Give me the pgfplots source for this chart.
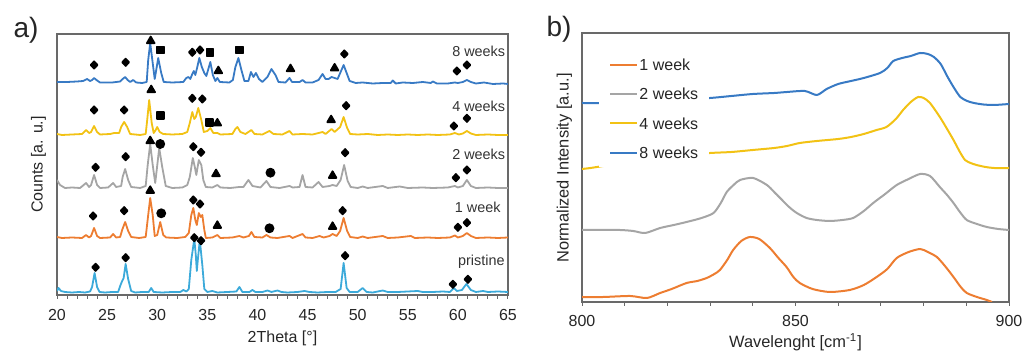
\documentclass[border=0pt]{standalone}
\usepackage{fontspec}
\setmainfont{Liberation Sans}
\usepackage{pgfplots}
\pgfplotsset{compat=1.18}
\definecolor{cpri}{RGB}{60,170,218}
\definecolor{cone}{RGB}{237,125,49}
\definecolor{ctwo}{RGB}{165,165,165}
\definecolor{cfour}{RGB}{242,194,20}
\definecolor{ceight}{RGB}{56,122,196}
\definecolor{axgray}{RGB}{105,105,105}
\newcommand{\tfont}{\fontsize{8}{9}\selectfont}
\begin{document}
\begin{tikzpicture}
\path[use as bounding box] (0,0) rectangle (512pt,176pt);
\node[font=\fontsize{14}{16}\selectfont, text=black!85] at (13pt,161pt) {a)};
\node[font=\fontsize{14}{16}\selectfont, text=black!85] at (279.5pt,161.5pt) {b)};
\begin{axis}[
  at={(28.5pt,28.5pt)}, anchor=south west, scale only axis,
  width=225.5pt, height=130.5pt,
  xmin=20, xmax=65, ymin=0, ymax=261,
  xtick={20,25,...,65}, minor x tick num=4, ytick=\empty,
  xtick pos=bottom, tick align=outside,
  major tick length=2pt, minor tick length=2pt,
  axis line style={color=axgray, line width=0.7pt},
  every tick/.style={color=axgray, line width=0.5pt},
  tick label style={font=\tfont, text=black!85},
  /pgf/number format/assume math mode=true,
  xticklabel style={anchor=center, yshift=-8pt},
  xlabel={2Theta [°]}, ylabel={Counts [a. u.]},
  label style={font=\tfont, text=black!85},
  xlabel style={at={(axis description cs:0.5,0)}, anchor=center, yshift=-21.5pt},
  ylabel style={at={(axis description cs:-0.009,0.5)}, anchor=south},
  every axis plot/.append style={line width=0.9pt, line join=round},
]
% pristine
\addplot[cpri] coordinates {(20.0,4)(20.15,7)(20.4,4)(20.8,3)(21.5,2.5)(22.2,3)(22.8,2.5)(23.3,3.5)(23.5,8)(23.75,22)(24.0,8)(24.25,3)(24.8,2.5)(25.5,3)(26.1,3)(26.3,9)(26.5,14)(26.65,17)(26.85,31)(27.1,16)(27.4,4)(27.8,2.5)(28.5,3)(29.15,3)(29.4,7)(29.65,3)(30.5,2.5)(31.5,3)(32.3,3)(32.6,5)(32.9,3.5)(33.15,6)(33.4,35)(33.7,56)(33.85,40)(33.95,24)(34.05,35)(34.25,55)(34.5,30)(34.7,6)(35,3)(35.5,4)(36,2.5)(37,3)(37.9,3.5)(38.2,8)(38.5,3)(39.2,3)(39.5,5)(39.8,3)(40.5,3)(41,4.5)(41.4,3)(42,4.5)(42.4,3)(43,2.5)(44,3)(44.7,4)(45.2,3)(46,2.5)(47,3)(47.8,3)(48.3,6)(48.6,32)(48.9,7)(49.2,3)(50,3)(50.5,7)(50.9,3)(51.5,2.5)(52.5,4.5)(53,3)(54,3)(55,3.5)(56,4)(56.5,3)(57.5,3)(58.5,3.5)(59.2,3)(59.6,7)(59.9,4)(60.4,5)(60.85,11)(61.3,5)(61.8,3)(62.5,4)(63,3)(64,3.5)(65,3)};
% 1 week
\addplot[cone] coordinates {(20.0,58)(20.5,57)(21.5,57.5)(22.5,57)(22.9,60)(23.2,57.5)(23.4,59)(23.7,67)(24.0,59)(24.3,57)(25.3,57.5)(25.6,61)(25.9,57.5)(26.3,58)(26.5,65)(26.8,73)(27.1,64)(27.4,58)(28.2,57)(28.85,58)(29.1,80)(29.3,97)(29.55,80)(29.75,59)(30.0,60)(30.3,73)(30.6,60)(30.9,57.5)(32,57)(32.8,58)(33.15,62)(33.4,80)(33.6,87)(33.8,75)(33.95,70)(34.15,82)(34.35,78)(34.5,80)(34.7,65)(34.85,57)(35.5,57.5)(36.0,60)(36.3,57)(37.5,57.5)(38.2,59)(38.6,57.5)(39.15,59)(39.4,63)(39.7,58)(40.5,57.5)(40.9,60)(41.3,57.5)(42,57)(43.2,59)(43.5,57)(44.5,61)(44.8,57.5)(45.5,57)(46.2,59)(46.6,57.5)(47.2,59)(47.5,61)(47.9,59)(48.25,64)(48.6,77)(48.95,64)(49.25,58)(50,57)(50.5,58.5)(51,57)(52.5,59)(53,57)(54,57.5)(55.3,59)(55.7,57)(57,57.5)(58,57)(59.2,57.5)(59.7,59.5)(60,57.5)(60.5,59)(60.9,62)(61.3,59)(61.8,57)(63,57.5)(64,57)(65,57.5)};
% 2 weeks
\addplot[ctwo] coordinates {(20.0,115)(20.3,110)(20.8,107)(21.5,107.5)(22.3,107)(22.9,112)(23.2,108)(23.4,110)(23.7,120)(24.0,110)(24.3,107)(25.1,107.5)(25.6,112)(25.9,108)(26.4,109)(26.55,118)(26.8,126)(27.1,115)(27.4,108)(28.3,107)(28.85,109)(29.05,130)(29.3,151)(29.55,130)(29.8,112)(29.95,125)(30.2,147)(30.5,128)(30.85,109)(31.5,107)(32.5,107.5)(33.0,110)(33.25,118)(33.55,137)(33.75,128)(33.9,120)(34.15,135)(34.4,130)(34.6,115)(34.85,108)(35.5,107.5)(36.0,110)(36.3,107.5)(37.3,107)(38.2,108)(38.6,108)(39.1,115)(39.5,109)(40.3,107.5)(40.9,114)(41.3,108)(42.2,107)(43.2,109)(43.5,107.5)(44.2,108)(44.5,120)(44.8,108)(45.5,107.5)(46.1,113)(46.5,108)(47.2,109)(47.5,110)(47.9,109)(48.3,115)(48.65,130)(49.0,114)(49.3,108)(50,107)(50.5,108.5)(51,107)(52.5,109)(53,107)(54.2,108.5)(55,107)(56.5,107.5)(57.5,107)(59,107.5)(59.7,109)(60,107.5)(60.5,109)(60.9,115)(61.3,109)(61.8,107)(63,107.5)(64,107)(65,107)};
% 4 weeks
\addplot[cfour] coordinates {(20.0,161)(20.5,160)(21.5,160.5)(22.5,161)(22.9,165)(23.2,162)(23.4,163)(23.7,169)(24.0,163)(24.3,160.5)(25.3,161)(25.7,162)(26.2,162)(26.4,168)(26.7,173)(27.0,168)(27.3,161)(28.3,160)(28.85,161)(29.0,175)(29.2,195)(29.45,172)(29.65,162)(29.85,165)(30.0,168)(30.25,163)(30.6,161)(31.5,160.5)(32.5,161)(33.0,163)(33.25,172)(33.5,183)(33.7,176)(33.85,178)(34.1,187)(34.4,175)(34.65,163)(35.0,164)(35.3,167)(35.6,162)(36.0,162)(36.3,160.5)(37.5,161)(37.8,166)(38.0,168)(38.3,163)(38.8,161)(39.4,165)(39.7,161)(40.5,160.5)(41.2,164)(41.6,161)(42.5,160.5)(43.2,164)(43.5,160.5)(44.5,161)(45.5,160.5)(46.5,163)(46.8,161)(47.4,166)(47.7,163)(48.25,168)(48.6,178)(48.95,167)(49.25,161)(50,160.5)(51,161)(52,160)(53,160.5)(54,160)(55,160.5)(56,160)(57,160.5)(58,160)(59.2,160.5)(59.7,162)(60.1,160.5)(60.5,161.5)(60.9,164)(61.3,161.5)(61.8,160)(63,160.5)(64,160)(65,160)};
% 8 weeks
\addplot[ceight] coordinates {(20.0,213)(21,213)(22,213.5)(22.6,214)(23.0,216)(23.3,214)(23.5,215)(23.7,217)(24.0,214.5)(24.3,212.5)(25.5,212.5)(26.3,213.5)(26.55,216)(26.8,218)(27.05,215)(27.3,213)(27.6,215)(27.9,212.5)(28.5,212)(28.95,213)(29.1,235)(29.3,252)(29.55,232)(29.75,216)(29.9,225)(30.1,237)(30.4,222)(30.65,213)(31.5,212.5)(32.6,213)(32.9,217)(33.1,218)(33.3,216)(33.5,221)(33.65,224)(33.8,220)(34.0,228)(34.2,237)(34.45,228)(34.7,222)(34.9,219)(35.1,226)(35.3,233)(35.55,220)(35.8,214)(36.0,217)(36.25,213)(37.2,212.5)(37.55,215)(37.8,228)(38.1,237)(38.4,225)(38.7,214)(39.1,214)(39.35,223)(39.6,218)(39.85,222)(40.15,216)(40.5,213)(41.0,218)(41.4,226)(41.8,220)(42.1,213)(42.8,212.5)(43.2,217)(43.45,213)(44.2,213)(44.5,215)(44.8,212.5)(45.5,212.5)(46.1,215)(46.5,221)(46.8,216)(47.1,216)(47.4,218)(47.7,217)(48.0,216)(48.3,223)(48.6,230)(48.9,222)(49.2,214)(49.8,212)(50.5,212.5)(51.5,211.5)(52.5,212)(53.3,212)(53.5,214.5)(53.8,211.5)(54.5,212.5)(55.5,212)(56.5,213)(57.3,212)(57.5,213.5)(57.9,211.5)(59,211.5)(59.7,212.5)(60.0,212)(60.5,213)(60.9,215)(61.3,213)(61.8,211.5)(62.6,212.5)(63.5,211)(64.5,211.5)(65,211)};
% symbols
\addplot[only marks, mark=diamond*, mark size=1.8pt, black, mark options={xscale=1.25}] coordinates {
(23.7,230)(26.85,232.7)(33.5,242.7)(34.27,245)(48.67,241)(59.9,224)(60.9,230)
(23.7,185)(26.7,185)(33.5,196.7)(34.5,196)(48.85,189.3)(59.6,169)(60.9,176.7)
(23.85,127.7)(26.85,138.3)(33.6,148.3)(34.37,142.7)(48.75,142.3)(59.8,117.3)(60.9,125)
(23.6,79)(26.7,84.3)(33.6,95)(34.27,91)(48.5,84.3)(60,67.7)(60.9,72.3)
(23.85,27.7)(26.85,37.3)(33.7,57.3)(34.37,54.3)(48.75,39.3)(59.5,10.7)(61,15.7)};
\addplot[only marks, mark=triangle*, mark size=2.2pt, black] coordinates {
(29.35,254)(36.1,224)(43.3,226)(47.7,226.7)
(29.4,205)(36,171.7)(47.35,175)
(29.3,154)(35.87,121)(47.5,119.3)
(29.3,104.3)(36,69.3)(47.5,68.3)};
\addplot[only marks, mark=square*, mark size=1.75pt, black] coordinates {
(30.35,245)(35.27,242.7)(38.2,245)
(30.35,179.3)(35.2,172.3)};
\addplot[only marks, mark=*, mark size=2pt, black] coordinates {
(30.3,151)(41.3,122.3)
(30.4,81.7)(41.2,66.7)};
\node[anchor=east, inner sep=0pt, font=\fontsize{7.2}{8}\selectfont, text=black!80] at (axis cs:64.75,244) {8 weeks};
\node[anchor=east, inner sep=0pt, font=\fontsize{7.2}{8}\selectfont, text=black!80] at (axis cs:64.75,189) {4 weeks};
\node[anchor=east, inner sep=0pt, font=\fontsize{7.2}{8}\selectfont, text=black!80] at (axis cs:64.75,141) {2 weeks};
\node[anchor=east, inner sep=0pt, font=\fontsize{7.2}{8}\selectfont, text=black!80] at (axis cs:64.3,88) {1 week};
\node[anchor=east, inner sep=0pt, font=\fontsize{7.2}{8}\selectfont, text=black!80] at (axis cs:64.7,33) {pristine};
\end{axis}

\begin{axis}[
  at={(291pt,25pt)}, anchor=south west, scale only axis,
  width=213.5pt, height=134.5pt,
  xmin=800, xmax=900, ymin=0, ymax=269,
  xtick={800,850,900}, minor x tick num=4, ytick=\empty,
  xtick pos=bottom, tick align=outside,
  major tick length=2pt, minor tick length=2pt,
  axis line style={color=axgray, line width=0.7pt},
  every tick/.style={color=axgray, line width=0.5pt},
  tick label style={font=\tfont, text=black!85},
  /pgf/number format/assume math mode=true,
  xticklabel style={anchor=center, yshift=-7.5pt},
  xlabel={Wavelenght [cm\textsuperscript{-1}]}, ylabel={Normalized Intensity [a.u.]},
  label style={font=\fontsize{8.2}{9}\selectfont, text=black!85},
  xlabel style={at={(axis description cs:0.5,0)}, anchor=center, yshift=-20pt},
  ylabel style={at={(axis description cs:-0.007,0.498)}, anchor=south},
  every axis plot/.append style={line width=1pt, line join=round, smooth, tension=0.45},
  legend image code/.code={\draw[#1, line width=1pt] (0pt,0pt) -- (13.5pt,0pt);},
  legend cell align=left,
  legend style={at={(axis cs:804,252)}, anchor=north west, fill=white, draw=none,
    inner xsep=4.8pt, inner ysep=3.7pt, row sep=7.4pt,
    font=\fontsize{8}{9}\selectfont, text=black!85,
    nodes={inner sep=0.7pt, text depth=0pt}},
]
\addplot[cone] coordinates {(800,5)(805,5)(811.3,6)(815.2,4)(818.3,9)(821,13)(824.5,19)(827,21)(829.2,24)(831,28)(832.3,32)(834,42)(835.4,52)(837.3,61)(839.3,65)(841.5,63)(844,54)(846,44)(847.9,35)(849.5,25)(851,19)(854,13)(858,10)(862.7,12)(866,17)(869,25)(871.5,33)(873.7,44)(876.5,50)(879.2,53)(881,50)(883.1,45)(885,36)(887,25)(888.7,15)(890.1,9)(892.5,5)(894.8,2)(896,0)};
\addplot[ctwo] coordinates {(800,72)(804,72)(808.9,72)(812,71)(814.8,69)(818.3,74)(821.5,77)(824.5,80)(828,84)(830.8,89)(832.5,99)(833.9,110)(835.5,117)(837,122)(840.1,124)(843.3,117)(845,110)(846.4,104)(848.5,95)(850.3,89)(852.6,84)(855,82)(858,81)(861,82)(863.5,84)(866,91)(868.2,99)(871,108)(873.7,117)(876.5,123)(879.2,128)(881.5,126)(883.8,115)(885.5,107)(887,99)(888.5,90)(890.1,82)(892.5,78)(894.8,75)(897.5,73)(900,72)};
\addplot[cfour] coordinates {(800,133)(802,134)(805,136)(810,139)(815,142)(820,145)(825,147)(830,149)(835,150)(840,152)(845,154)(848,156)(851,159)(855,161)(860,163)(863,165)(866,168)(869,172)(871.3,175)(873.5,183)(875.2,192)(877,200)(878.7,205)(880,204)(881.5,199)(883.8,185)(885.5,173)(887,162)(888.5,150)(889.7,142)(891,139)(892.4,137)(894.5,135)(896.5,134)(900,134)};
\addplot[ceight] coordinates {(800,199)(805,199)(810,200)(815,201)(820,202)(825,203)(830,204)(835,206)(840,208)(845,209)(848,210)(852.2,211)(855,207)(857.3,213)(860,218)(863,221)(866,224)(869.8,229)(871.5,234)(872.9,241)(875,244)(877,246)(879.2,249)(881,248)(882.4,245)(884,238)(885.5,226)(887,215)(888.6,205)(890.2,201)(891.8,199)(894,197.5)(896.5,197)(900,198)};
\legend{1 week, 2 weeks, 4 weeks, 8 weeks}
\end{axis}
\end{tikzpicture}
\end{document}
